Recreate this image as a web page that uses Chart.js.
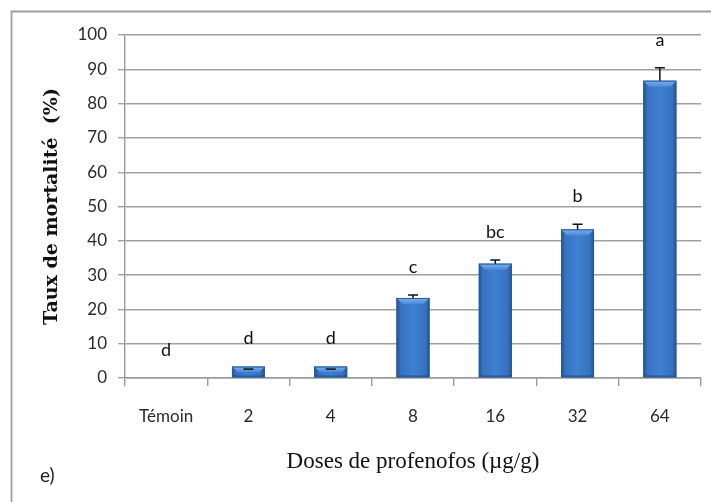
<!DOCTYPE html>
<html>
<head>
<meta charset="utf-8">
<script src="https://cdn.jsdelivr.net/npm/chart.js@4"></script>
<style>
  html, body { margin: 0; padding: 0; background: #ffffff; }
  #wrap { width: 711px; height: 502px; }
</style>
</head>
<body>
<div id="wrap"><canvas id="c" width="711" height="502"></canvas></div>
<script>
// Mortality rate by profenofos dose, mean ± error, with significance groups
const categories = ['Témoin', '2', '4', '8', '16', '32', '64'];
const mortality = [0, 3.33, 3.33, 23.33, 33.33, 43.33, 86.67];
const errors = [0, 0, 0, 0.9, 1.1, 1.5, 3.8];
const groups = ['d', 'd', 'd', 'c', 'bc', 'b', 'a'];
const yMin = 0, yMax = 100, yStep = 10;

const labelFont = 'Lato, "Open Sans", sans-serif';
const serifFont = '"Liberation Serif", "DejaVu Serif", serif';
const boldSerifFont = '"DejaVu Serif", "Liberation Serif", serif';

// Outer frame and panel letter
const framePlugin = {
  id: 'frame',
  beforeDraw(chart) {
    const ctx = chart.ctx;
    ctx.save();
    ctx.fillStyle = '#ffffff';
    ctx.fillRect(0, 0, chart.width, chart.height);
    ctx.strokeStyle = '#a0a0a0';
    ctx.lineWidth = 1.8;
    ctx.beginPath();
    ctx.moveTo(11.5, chart.height);
    ctx.lineTo(11.5, 11.5);
    ctx.lineTo(chart.width, 11.5);
    ctx.stroke();
    ctx.restore();
  },
  afterDraw(chart) {
    const ctx = chart.ctx;
    ctx.save();
    ctx.fillStyle = '#222222';
    ctx.font = '19px ' + labelFont;
    ctx.textBaseline = 'middle';
    ctx.textAlign = 'left';
    ctx.fillText('e)', 40, 476);
    ctx.restore();
  }
};

// Bevelled bars, error bars and group letters
const barStylePlugin = {
  id: 'barStyle',
  afterDatasetsDraw(chart) {
    const ctx = chart.ctx;
    const yScale = chart.scales.y;
    const meta = chart.getDatasetMeta(0);
    meta.data.forEach((bar, i) => {
      const left = bar.x - bar.width / 2;
      const right = bar.x + bar.width / 2;
      const top = bar.y;
      const base = bar.base;
      const h = base - top;
      ctx.save();
      if (h > 0.5) {
        const g = ctx.createLinearGradient(left, 0, right, 0);
        g.addColorStop(0, '#24508c');
        g.addColorStop(0.12, '#3672c0');
        g.addColorStop(0.5, '#3f80d2');
        g.addColorStop(0.88, '#3672c0');
        g.addColorStop(1, '#24508c');
        ctx.fillStyle = g;
        ctx.fillRect(left, top, bar.width, h);
        // top bevel
        const bev = Math.min(6, h / 2);
        const gb = ctx.createLinearGradient(0, top, 0, top + bev);
        gb.addColorStop(0, '#7fb0ec');
        gb.addColorStop(1, '#4a8ad9');
        ctx.fillStyle = gb;
        ctx.beginPath();
        ctx.moveTo(left, top);
        ctx.lineTo(right, top);
        ctx.lineTo(right - bev, top + bev);
        ctx.lineTo(left + bev, top + bev);
        ctx.closePath();
        ctx.fill();
        // bottom shade
        ctx.fillStyle = 'rgba(20,50,100,0.35)';
        ctx.fillRect(left, base - 2, bar.width, 2);
        ctx.strokeStyle = '#2a5a9a';
        ctx.lineWidth = 1;
        ctx.strokeRect(left + 0.5, top + 0.5, bar.width - 1, h - 1);

        // error bar
        const yErr = yScale.getPixelForValue(mortality[i] + errors[i]);
        const yVal = errors[i] > 0 ? top : top + 2.5;
        ctx.strokeStyle = '#111111';
        ctx.lineWidth = 1.5;
        ctx.beginPath();
        if (errors[i] > 0) {
          ctx.moveTo(bar.x, yVal);
          ctx.lineTo(bar.x, yErr);
          ctx.moveTo(bar.x - 5, yErr);
          ctx.lineTo(bar.x + 5, yErr);
        } else {
          ctx.moveTo(bar.x - 5, yVal);
          ctx.lineTo(bar.x + 5, yVal);
        }
        ctx.stroke();
      }
      // group letter
      const yLetter = yScale.getPixelForValue(mortality[i] + errors[i]) - 28;
      ctx.fillStyle = '#111111';
      ctx.font = '18px ' + labelFont;
      ctx.textAlign = 'center';
      ctx.textBaseline = 'middle';
      ctx.fillText(groups[i], bar.x, yLetter);
      ctx.restore();
    });
  }
};

new Chart(document.getElementById('c'), {
  type: 'bar',
  data: {
    labels: categories,
    datasets: [{
      label: 'Taux de mortalité',
      data: mortality,
      backgroundColor: '#3f80d2',
      borderWidth: 0,
      categoryPercentage: 1.0,
      barPercentage: 0.4
    }]
  },
  options: {
    responsive: false,
    animation: false,
    devicePixelRatio: 1,
    layout: { padding: { left: 0, right: 10, top: 35, bottom: 0 } },
    plugins: {
      legend: { display: false },
      tooltip: { enabled: false }
    },
    scales: {
      x: {
        grid: {
          offset: true,
          drawOnChartArea: false,
          drawTicks: true,
          tickLength: 8,
          color: '#9a9a9a',
          lineWidth: 1.4
        },
        border: { color: '#9a9a9a', width: 1.4 },
        ticks: {
          color: '#2a2a2a',
          font: { family: labelFont, size: 17 },
          padding: 20,
          maxRotation: 0
        },
        title: {
          display: true,
          text: 'Doses de profenofos (µg/g)',
          color: '#111111',
          font: { family: serifFont, size: 23 },
          padding: { top: 0, bottom: 26 }
        },
        afterFit(scale) { scale.height = 124; }
      },
      y: {
        min: yMin,
        max: yMax,
        grid: {
          color: '#a0a0a0',
          lineWidth: 1.4,
          tickLength: 7
        },
        border: { color: '#9a9a9a', width: 1.4 },
        ticks: {
          stepSize: yStep,
          color: '#2a2a2a',
          font: { family: labelFont, size: 17 },
          padding: 11
        },
        title: {
          display: true,
          text: 'Taux de mortalité  (%)',
          color: '#111111',
          font: { family: boldSerifFont, size: 19, weight: 'bold' },
          padding: { top: 41, bottom: 0 }
        },
        afterFit(scale) { scale.width = 125; }
      }
    }
  },
  plugins: [framePlugin, barStylePlugin]
});
</script>
</body>
</html>
